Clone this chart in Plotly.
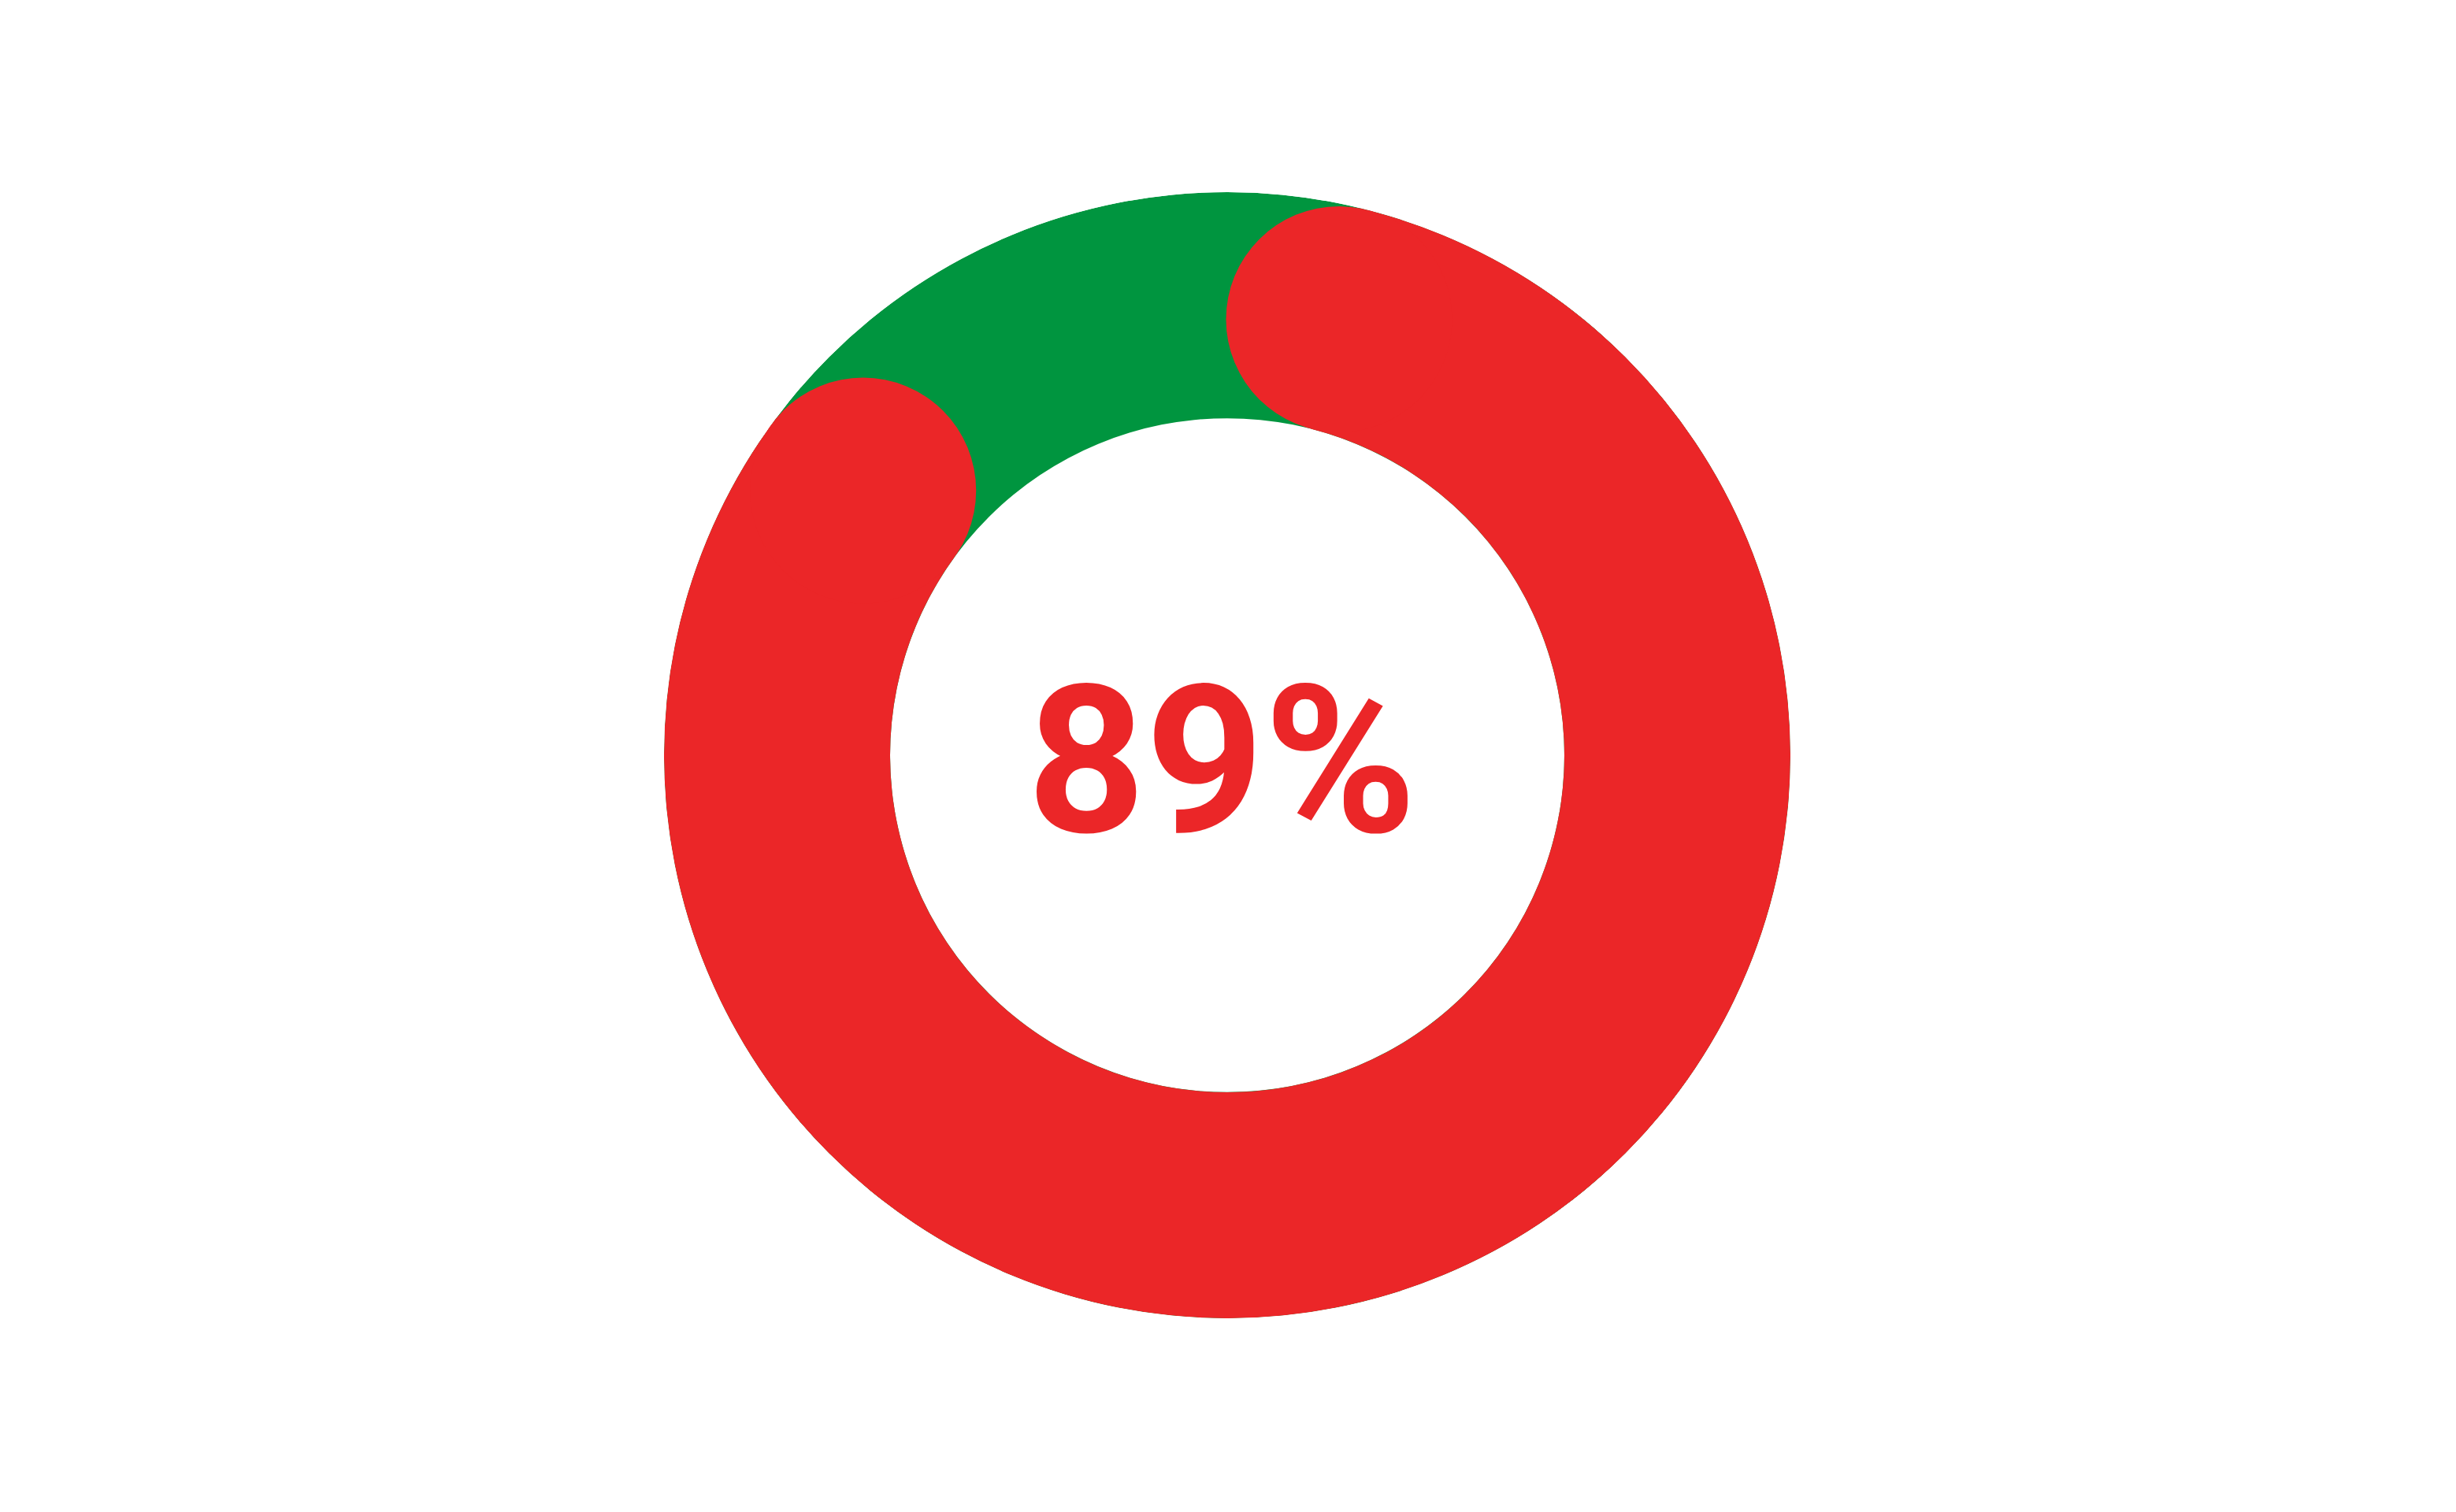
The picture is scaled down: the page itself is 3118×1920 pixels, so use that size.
import math
import plotly.graph_objects as go

# ---- data ----
progress_label = ["Progress"]
progress_values = [89]          # percent shown
total_values = [100]

# ---- style ----
W, H = 3118, 1920
CX, CY = 1558, 959
R_OUT, R_IN = 715, 428
RED = "#EB2628"
GREEN = "#00953F"

thick = R_OUT - R_IN
r_mid = (R_OUT + R_IN) / 2
cap_deg = math.degrees((thick / 2) / r_mid)

pct = progress_values[0] / total_values[0]
sweep = 360 * pct
start = cap_deg
end = sweep - cap_deg

fig = go.Figure()

# background ring (two halves, seams hidden under the red arc)
fig.add_trace(go.Barpolar(
    r=[thick, thick], base=[R_IN, R_IN], theta=[0, 180], width=[180, 180],
    marker=dict(color=GREEN, line=dict(width=0)), hoverinfo="skip",
))
# red arc
fig.add_trace(go.Barpolar(
    r=[thick], base=[R_IN], theta=[(start + end) / 2], width=[end - start],
    marker=dict(color=RED, line=dict(width=0)), name=progress_label[0],
))
# round caps
fig.add_trace(go.Scatterpolar(
    r=[r_mid, r_mid], theta=[start, end], mode="markers",
    marker=dict(size=thick, color=RED, line=dict(width=0)), hoverinfo="skip",
))

fig.update_layout(
    width=W, height=H,
    margin=dict(l=0, r=0, t=0, b=0),
    paper_bgcolor="white",
    showlegend=False,
    polar=dict(
        domain=dict(x=[(CX - R_OUT) / W, (CX + R_OUT) / W],
                    y=[1 - (CY + R_OUT) / H, 1 - (CY - R_OUT) / H]),
        bgcolor="rgba(0,0,0,0)",
        radialaxis=dict(range=[0, R_OUT], visible=False, showgrid=False),
        angularaxis=dict(rotation=90, direction="clockwise", visible=False,
                         showgrid=False, showline=False, ticks=""),
        barmode="overlay",
    ),
    annotations=[dict(
        text=f"{progress_values[0]}%", x=1551 / W, y=1 - 966 / H,
        xref="paper", yref="paper", showarrow=False,
        xanchor="center", yanchor="middle",
        font=dict(family="Roboto, sans-serif",
                  size=262, color=RED, weight="bold"),
    )],
)

fig.write_html("out.html")
